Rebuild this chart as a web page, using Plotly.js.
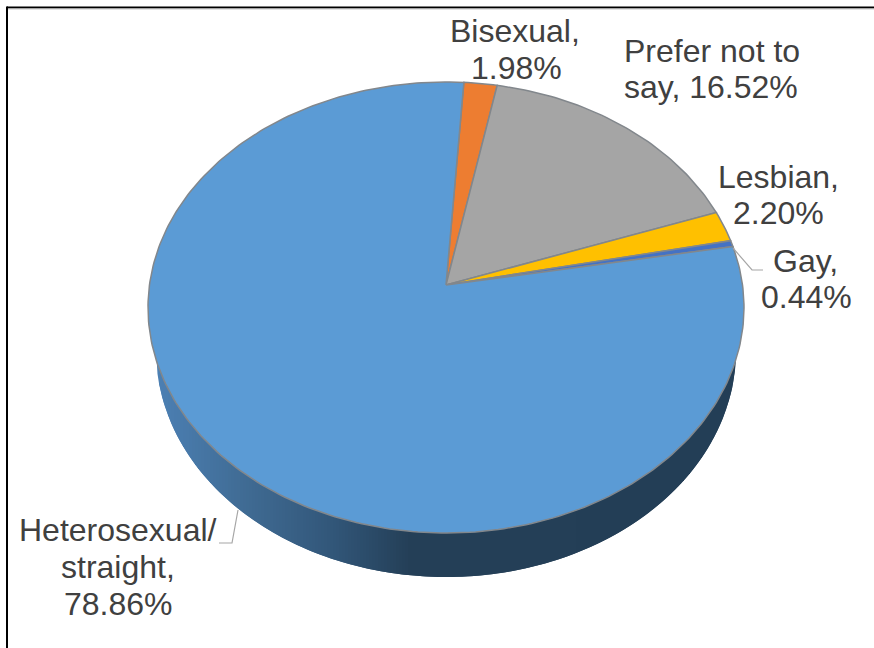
<!DOCTYPE html>
<html>
<head>
<meta charset="utf-8">
<script src="https://cdn.plot.ly/plotly-3.0.1.min.js"></script>
<style>html,body{margin:0;padding:0;background:#fff}#chart{width:874px;height:648px}</style>
</head>
<body>
<div id="chart"></div>
<script>
// Shares in clockwise drawing order, starting from the top of the pie.
const categories = ['Bisexual', 'Prefer not to say', 'Lesbian', 'Gay', 'Heterosexual/straight'];
const shares = [1.98, 16.52, 2.20, 0.44, 78.86];
const sliceColors = ['#ed7d31', '#a5a5a5', '#ffc000', '#4472c4', '#5b9bd5'];

// Each label line, centred on a point of the page; share lines take their number from shares.
const labelLines = [
  {slice: 0, text: 'Bisexual,', x: 515, y: 31},
  {slice: 0, share: true, x: 516, y: 68},
  {slice: 1, text: 'Prefer not to', x: 712, y: 51},
  {slice: 1, text: 'say, ', share: true, x: 711, y: 87},
  {slice: 2, text: 'Lesbian,', x: 778, y: 177},
  {slice: 2, share: true, x: 778, y: 213},
  {slice: 3, text: 'Gay,', x: 805, y: 261},
  {slice: 3, share: true, x: 806, y: 297},
  {slice: 4, text: 'Heterosexual/', x: 118, y: 530},
  {slice: 4, text: 'straight,', x: 118, y: 567},
  {slice: 4, share: true, x: 118, y: 604}
];

// Leader lines for the two labels that sit away from their slices.
const leaders = [
  {x: [733, 752, 763], y: [248, 270, 270]},
  {x: [238, 232, 219], y: [510, 543, 543]}
];

// Tilted-disc projection: apex of the wedges and horizontal half width on the page.
const apex = {x: 446, y: 285};
const top_ = 82, bottom = 533, halfWidth = 298;
const rise = apex.y - top_, fall = bottom - apex.y;
const k = (fall - rise) / (fall + rise);
const by = rise * (1 + k);
const ax = halfWidth * Math.sqrt(1 - k * k);
const firstAngle = 3.8;            // degrees clockwise from north

function project(deg, r) {
  const t = deg * Math.PI / 180;
  const u = r * Math.sin(t), v = r * Math.cos(t);
  const w = 1 + k * v;
  return [apex.x + ax * u / w, apex.y - by * v / w];
}

function wedge(a0, a1) {
  const xs = [apex.x], ys = [apex.y];
  const n = Math.max(2, Math.ceil((a1 - a0) / 1));
  for (let i = 0; i <= n; i++) {
    const p = project(a0 + (a1 - a0) * i / n, 1);
    xs.push(p[0]); ys.push(p[1]);
  }
  xs.push(apex.x); ys.push(apex.y);
  return {xs, ys};
}

// Side wall: vertical bands shaded from mid blue on the left to navy towards the right.
const wall = {cx: 446, cy: 351, rx: 290, ry: 226};
const wallStops = [[156, [76, 128, 180]], [250, [63, 106, 146]], [330, [50, 87, 122]], [410, [36, 63, 87]], [740, [35, 62, 86]]];
function wallColor(x) {
  for (let i = 1; i < wallStops.length; i++) {
    const [x1, c1] = wallStops[i], [x0, c0] = wallStops[i - 1];
    if (x <= x1) {
      const f = Math.max(0, (x - x0) / (x1 - x0));
      return 'rgb(' + c0.map((c, j) => Math.round(c + (c1[j] - c) * f)).join(',') + ')';
    }
  }
  return 'rgb(35,62,86)';
}
const traces = [];
const bandWidth = 3;
const low = q => wall.cy + wall.ry * Math.sqrt(Math.max(0, 1 - ((q - wall.cx) / wall.rx) ** 2));
for (let x = wall.cx - wall.rx; x < wall.cx + wall.rx; x += bandWidth) {
  // Each band runs one band further right so the next one paints over any seam.
  const end = Math.min(x + bandWidth * 2, wall.cx + wall.rx);
  const xs = [], ys = [];
  for (let i = 0; i <= 4; i++) {
    const q = x + (end - x) * i / 4;
    xs.push(q); ys.push(low(q));
  }
  xs.push(end, x, x); ys.push(wall.cy, wall.cy, low(x));
  traces.push({type: 'scatter', mode: 'lines', x: xs, y: ys, fill: 'toself', fillcolor: wallColor(x + bandWidth / 2),
    line: {width: 0}, hoverinfo: 'skip', showlegend: false});
}

// Top face of the pie, one filled wedge per category.
let angle = firstAngle;
shares.forEach((s, i) => {
  const sweep = s / 100 * 360;
  const w = wedge(angle, angle + sweep);
  traces.push({type: 'scatter', mode: 'lines', x: w.xs, y: w.ys, fill: 'toself',
    fillcolor: sliceColors[i], line: {color: '#82878c', width: 1.5},
    name: categories[i], text: categories[i] + ': ' + s.toFixed(2) + '%', hoverinfo: 'text', showlegend: false});
  angle += sweep;
});

leaders.forEach(l => traces.push({type: 'scatter', mode: 'lines', x: l.x, y: l.y,
  line: {color: '#a6a6a6', width: 1.2}, hoverinfo: 'skip', showlegend: false}));

const annotations = labelLines.map(l => ({
  xref: 'x', yref: 'y', x: l.x, y: l.y, xanchor: 'center', yanchor: 'middle', showarrow: false,
  text: (l.text || '') + (l.share ? shares[l.slice].toFixed(2) + '%' : ''),
  font: {family: '"Liberation Sans", Arial, sans-serif', size: 32, color: '#404040'}
}));

const layout = {
  width: 874, height: 648,
  margin: {l: 0, r: 0, t: 0, b: 0},
  paper_bgcolor: '#ffffff', plot_bgcolor: '#ffffff',
  showlegend: false,
  xaxis: {range: [0, 874], visible: false, fixedrange: true},
  yaxis: {range: [648, 0], visible: false, fixedrange: true},
  annotations,
  shapes: [
    {type: 'line', xref: 'x', yref: 'y', x0: 7, x1: 874, y0: 7.5, y1: 7.5, line: {color: '#000000', width: 2}},
    {type: 'line', xref: 'x', yref: 'y', x0: 8, x1: 874, y0: 9, y1: 9, line: {color: '#c8c8c8', width: 1}},
    {type: 'line', xref: 'x', yref: 'y', x0: 7, x1: 7, y0: 6.5, y1: 648, line: {color: '#000000', width: 2}}
  ]
};

Plotly.newPlot('chart', traces, layout, {displayModeBar: false, staticPlot: true});
</script>
</body>
</html>
